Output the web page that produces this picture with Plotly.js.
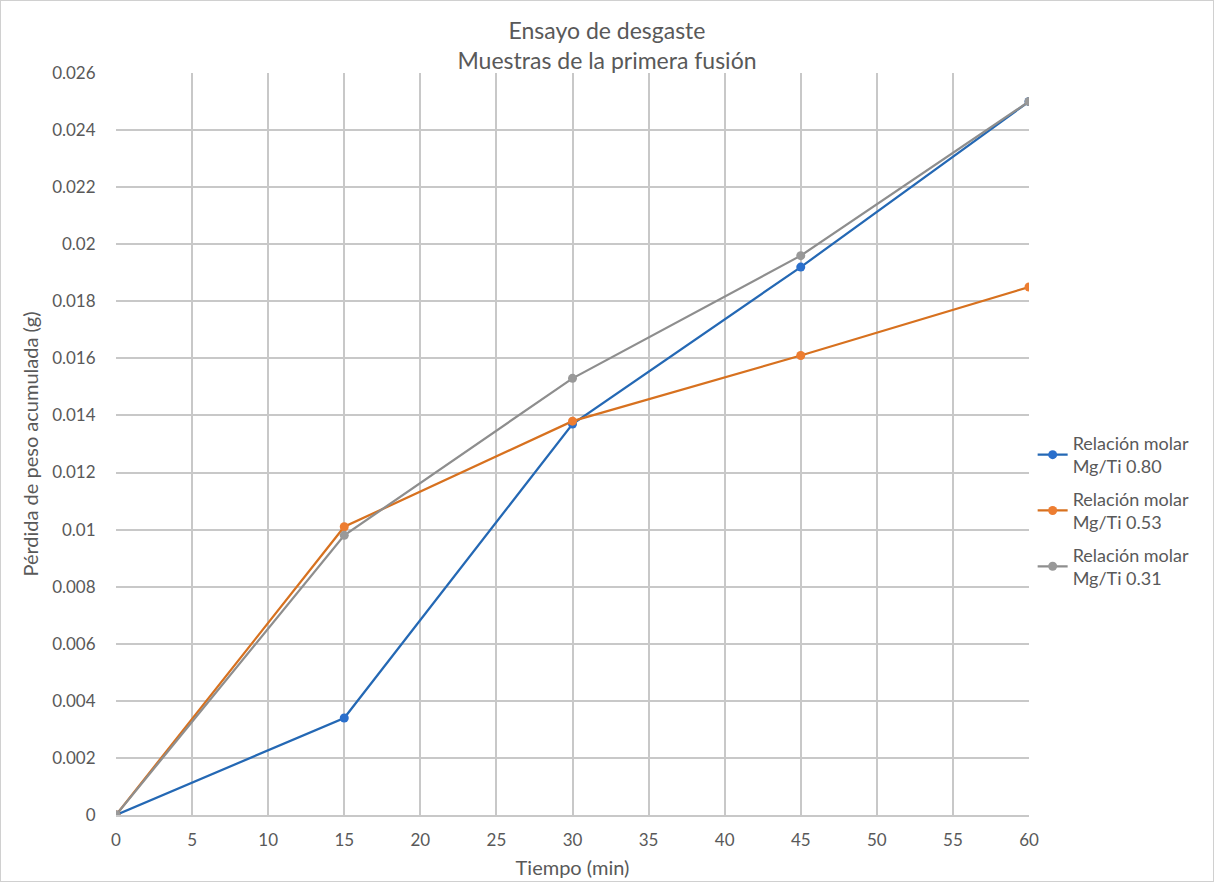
<!DOCTYPE html>
<html>
<head>
<meta charset="utf-8">
<script src="https://cdn.plot.ly/plotly-3.0.1.min.js"></script>
<style>
html,body{margin:0;padding:0;background:#fff;}
#chart{width:1214px;height:882px;box-sizing:border-box;border:1px solid #d0d0d0;}
</style>
</head>
<body>
<div id="chart"></div>
<script>
const tiempo = [0, 15, 30, 45, 60];
const mg080 = [0, 0.0034, 0.0137, 0.0192, 0.0250];
const mg053 = [0, 0.0101, 0.0138, 0.0161, 0.0185];
const mg031 = [0, 0.0098, 0.0153, 0.0196, 0.0250];
const seriesNames = ["Relación molar<br>Mg/Ti 0.80", "Relación molar<br>Mg/Ti 0.53", "Relación molar<br>Mg/Ti 0.31"];
const yTickVals = [0, 0.002, 0.004, 0.006, 0.008, 0.01, 0.012, 0.014, 0.016, 0.018, 0.02, 0.022, 0.024, 0.026];
const yTickText = ["0", "0.002", "0.004", "0.006", "0.008", "0.01", "0.012", "0.014", "0.016", "0.018", "0.02", "0.022", "0.024", "0.026"];
const xTickVals = [0, 5, 10, 15, 20, 25, 30, 35, 40, 45, 50, 55, 60];

const fontFam = "Lato, 'Open Sans', 'Noto Sans', sans-serif";
const txt = '#595959';
function tr(y, name, grp, lc, mc) {
  return {x: tiempo, y: y, name: name, legendgroup: grp, type: 'scatter', mode: 'lines+markers',
    line: {color: lc, width: 2.25}, marker: {color: mc, size: 9}};
}
const data = [
  tr(mg080, seriesNames[0], 'a', '#2468B4', '#2A6FCC'),
  tr(mg053, seriesNames[1], 'b', '#D7711F', '#ED7D31'),
  tr(mg031, seriesNames[2], 'c', '#8E8E8E', '#999999')
];
const layout = {
  width: 1212, height: 880,
  margin: {l: 115, r: 184, t: 72, b: 66},
  paper_bgcolor: '#fff', plot_bgcolor: '#fff',
  font: {family: fontFam, color: txt, size: 17},
  title: {text: 'Ensayo de desgaste<br>Muestras de la primera fusión', xref: 'container', x: 0.5, xanchor: 'center', yref: 'container', y: 0.957, yanchor: 'top',
    font: {size: 23, color: txt, family: fontFam}},
  xaxis: {range: [0, 60], tickvals: xTickVals, showgrid: true, gridcolor: '#C8C8C8', gridwidth: 2,
    zeroline: false, showline: true, linecolor: '#C8C8C8', linewidth: 2, ticks: 'outside', ticklen: 9, tickcolor: 'rgba(0,0,0,0)',
    title: {text: 'Tiempo (min)', font: {size: 20, color: txt}, standoff: 12}, tickfont: {size: 17, color: txt}},
  yaxis: {range: [0, 0.026], tickvals: yTickVals, ticktext: yTickText, showgrid: true, gridcolor: '#C8C8C8', gridwidth: 2,
    zeroline: false, showline: false, ticks: 'outside', ticklen: 16, tickcolor: 'rgba(0,0,0,0)',
    title: {text: 'Pérdida de peso acumulada (g)', font: {size: 20, color: txt}, standoff: 8}, tickfont: {size: 17, color: txt}},
  legend: {x: 1.004, xanchor: 'left', y: 0.41, yanchor: 'middle', font: {size: 18, color: txt}, tracegroupgap: 6, itemwidth: 30},
  showlegend: true
};
Plotly.newPlot('chart', data, layout, {displayModeBar: false});
</script>
</body>
</html>
